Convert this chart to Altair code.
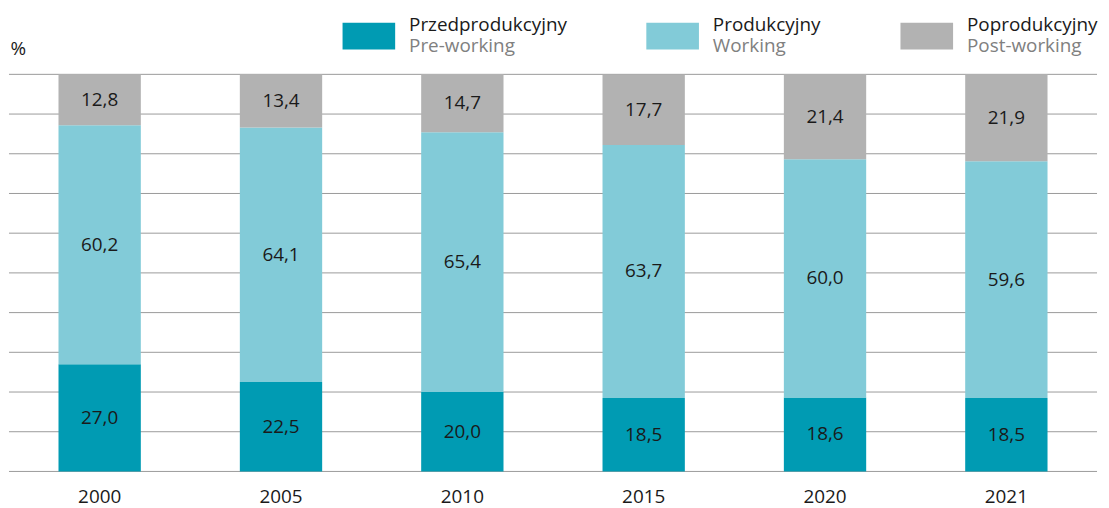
import altair as alt
import pandas as pd

years = ["2000", "2005", "2010", "2015", "2020", "2021"]
pre_working = [27.0, 22.5, 20.0, 18.5, 18.6, 18.5]
working = [60.2, 64.1, 65.4, 63.7, 60.0, 59.6]
post_working = [12.8, 13.4, 14.7, 17.7, 21.4, 21.9]
groups_pl = ["Przedprodukcyjny", "Produkcyjny", "Poprodukcyjny"]
groups_en = ["Pre-working", "Working", "Post-working"]
colors = ["#009bb3", "#82cbd8", "#b2b2b2"]
grid_values = [0, 10, 20, 30, 40, 50, 60, 70, 80, 90, 100]

FONT = "Open Sans"
TXT = "#1a1a1a"

rows = []
for gi, (g, vals) in enumerate(zip(groups_pl, [pre_working, working, post_working])):
    for yr, v in zip(years, vals):
        rows.append({"year": yr, "group": g, "value": v, "order": gi})
df = pd.DataFrame(rows)

color_scale = alt.Scale(domain=groups_pl, range=colors)
y_scale = alt.Scale(domain=[0, 100], nice=False)
y_axis = alt.Axis(title="%", titleAngle=0, titleX=1, titleY=-20,
                  titleAlign="left", titleBaseline="alphabetic",
                  titleFontSize=19, titleFontWeight="normal",
                  titleFont=FONT, titleColor=TXT,
                  labels=False, ticks=False, domain=False, grid=False)

x_enc = alt.X(
    "year:N",
    sort=years,
    scale=alt.Scale(paddingInner=0.546, paddingOuter=0.273),
    axis=alt.Axis(title=None, labelAngle=0, domain=False, ticks=False,
                  labelPadding=16, labelFontSize=19, labelColor=TXT,
                  labelFont=FONT),
)

grid = alt.Chart(pd.DataFrame({"g": grid_values})).mark_rule(
    color="#9a9a9a", strokeWidth=1
).encode(y=alt.Y("g:Q", scale=y_scale, axis=y_axis))

base = alt.Chart(df).transform_stack(
    stack="value", groupby=["year"], as_=["y0", "y1"],
    sort=[alt.SortField("order", "ascending")],
)

bars = base.mark_bar().encode(
    x=x_enc,
    y=alt.Y("y0:Q", scale=y_scale, axis=y_axis),
    y2="y1:Q",
    color=alt.Color("group:N", scale=color_scale, legend=None),
)

labels = base.transform_calculate(
    mid="(datum.y0 + datum.y1) / 2",
    lab="replace(format(datum.value, '.1f'), '.', ',')",
).mark_text(font=FONT, fontSize=19, color=TXT, baseline="middle").encode(
    x=alt.X("year:N", sort=years),
    y=alt.Y("mid:Q", axis=y_axis),
    text="lab:N",
)

layers = [grid, bars, labels]
one = pd.DataFrame({"k": [0]})
legend_x = [336, 642, 898]
for i in range(3):
    sx = legend_x[i]
    layers.append(alt.Chart(one).mark_rect(color=colors[i]).encode(
        x=alt.value(sx), x2=alt.value(sx + 53),
        y=alt.value(-52), y2=alt.value(-25)))
    layers.append(alt.Chart(one).mark_text(
        align="left", baseline="alphabetic", font=FONT, fontSize=19, color=TXT
    ).encode(x=alt.value(sx + 67), y=alt.value(-44), text=alt.value(groups_pl[i])))
    layers.append(alt.Chart(one).mark_text(
        align="left", baseline="alphabetic", font=FONT, fontSize=19, color="#808080"
    ).encode(x=alt.value(sx + 67), y=alt.value(-23), text=alt.value(groups_en[i])))

chart = alt.layer(*layers).properties(
    width=1096, height=400,
    padding={"left": 1, "top": 65, "right": 4, "bottom": 35},
    autosize=alt.AutoSizeParams(type="none"),
).configure_view(stroke=None)

chart.save("out.html", embed_options={"renderer": "svg", "actions": False})
